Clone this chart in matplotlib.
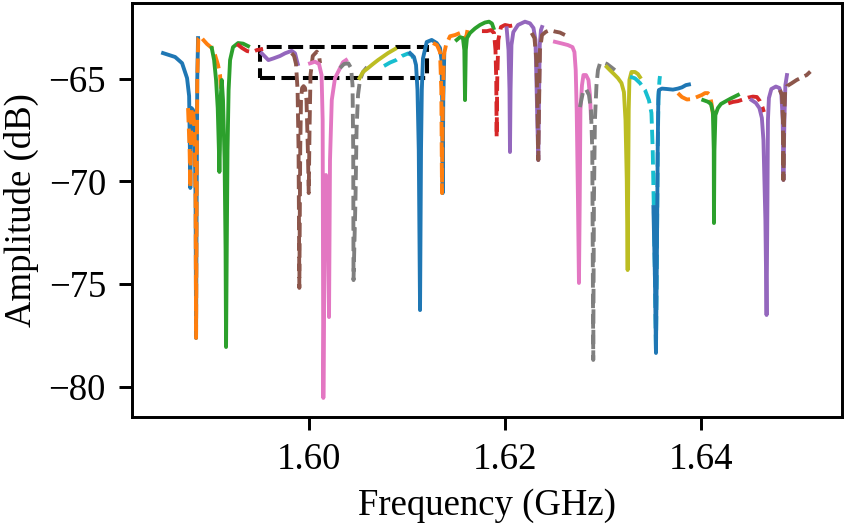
import matplotlib
matplotlib.use("Agg")
import matplotlib.pyplot as plt
import matplotlib.patches as patches

plt.rcParams['font.family'] = ['Liberation Serif', 'DejaVu Serif']
plt.rcParams['font.size'] = 10
plt.rcParams['mathtext.fontset'] = 'stix'

# resonance sweeps (GHz, dB)
f00 = [1.58510, 1.58633, 1.58704, 1.58755, 1.58776, 1.58784, 1.58788, 1.58793, 1.58801, 1.58816,
       1.58832, 1.58842, 1.58847, 1.58853, 1.58859, 1.58867]
a00 = [-63.75, -63.94, -64.24, -64.97, -65.84, -68.47, -70.32, -68.47, -66.43, -66.52,
       -67.50, -70.91, -77.63, -70.91, -65.06, -63.02]

f01 = [1.58765, 1.58781, 1.58788, 1.58793, 1.58801, 1.58816, 1.58832, 1.58842, 1.58847, 1.58853,
       1.58859, 1.58870, 1.58888, 1.58921, 1.58959, 1.59007, 1.59041, 1.59071, 1.59092, 1.59107]
a01 = [-66.43, -68.47, -70.32, -68.47, -66.43, -66.52, -67.50, -70.91, -77.63, -70.91,
       -65.06, -63.02, -62.92, -63.11, -63.31, -63.50, -63.85, -64.33, -64.82, -66.04]

f02 = [1.59007, 1.59031, 1.59051, 1.59068, 1.59080, 1.59085, 1.59090, 1.59097, 1.59109, 1.59122,
       1.59138, 1.59148, 1.59153, 1.59160, 1.59168, 1.59179, 1.59194, 1.59224, 1.59276, 1.59327, 1.59378]
a02 = [-63.50, -64.09, -65.06, -66.43, -68.47, -69.54, -68.47, -66.04, -65.06, -66.04,
       -68.96, -73.34, -78.07, -73.34, -68.47, -65.55, -64.09, -63.46, -63.26, -63.29, -63.41]

f03 = [1.59265, 1.59316, 1.59367, 1.59418, 1.59469, 1.59531]
a03 = [-63.31, -63.50, -63.65, -63.70, -63.60, -63.55]

f04 = [1.59517, 1.59585, 1.59636, 1.59704, 1.59755, 1.59823, 1.59857, 1.59874, 1.59885]
a04 = [-63.76, -64.09, -64.01, -63.89, -63.76, -63.64, -63.76, -64.09, -64.28]

f05 = [1.59823, 1.59847, 1.59867, 1.59883, 1.59893, 1.59901, 1.59910, 1.59918, 1.59929, 1.59944,
       1.59959, 1.59974, 1.59988, 1.59997, 1.60005, 1.60015, 1.60038, 1.60079, 1.60102, 1.60112]
a05 = [-63.75, -63.89, -64.28, -65.55, -68.47, -75.19, -68.47, -66.04, -65.45, -65.36,
       -65.45, -66.04, -68.47, -70.57, -67.50, -64.82, -63.89, -63.68, -63.85, -64.24]

f06 = [1.60010, 1.60061, 1.60102, 1.60128, 1.60139, 1.60146, 1.60158, 1.60173, 1.60189, 1.60204,
       1.60214, 1.60232, 1.60265, 1.60306, 1.60347, 1.60378]
a06 = [-64.25, -64.17, -64.28, -64.82, -67.01, -80.55, -73.34, -69.69, -70.91, -76.61,
       -68.96, -66.04, -64.97, -64.58, -64.19, -64.09]

f07 = [1.60316, 1.60357, 1.60401, 1.60429, 1.60444, 1.60451, 1.60454, 1.60474, 1.60485, 1.60500,
       1.60520, 1.60551, 1.60592]
a07 = [-64.48, -64.28, -64.25, -64.48, -65.31, -68.47, -74.81, -70.91, -67.50, -65.79,
       -65.06, -64.67, -64.43]

f08 = [1.60515, 1.60551, 1.60602, 1.60653, 1.60704, 1.60755, 1.60806, 1.60878]
a08 = [-64.97, -64.67, -64.48, -64.28, -64.09, -63.92, -63.75, -63.55]

f09 = [1.60765, 1.60827, 1.60888, 1.60949, 1.61010, 1.61051, 1.61077]
a09 = [-64.38, -64.21, -64.09, -63.89, -63.77, -63.85, -64.19]

f10 = [1.61031, 1.61071, 1.61092, 1.61107, 1.61120, 1.61133, 1.61143, 1.61151, 1.61163, 1.61201,
       1.61252, 1.61303, 1.61337, 1.61352, 1.61359, 1.61364, 1.61370, 1.61380]
a10 = [-63.75, -63.94, -64.33, -65.55, -68.47, -76.27, -68.47, -65.55, -64.01, -63.21,
       -63.11, -63.26, -63.50, -64.09, -66.04, -70.57, -66.04, -63.85]

f11 = [1.61265, 1.61306, 1.61337, 1.61350, 1.61357, 1.61365, 1.61376, 1.61398, 1.61439, 1.61490,
       1.61541, 1.61571, 1.61587, 1.61594, 1.61602, 1.61617]
a11 = [-63.26, -63.36, -63.70, -65.55, -70.57, -66.52, -63.85, -63.36, -62.93, -62.87,
       -62.77, -62.77, -63.02, -63.50, -63.02, -62.63]

f12 = [1.61507, 1.61541, 1.61571, 1.61585, 1.61592, 1.61600, 1.61612, 1.61643, 1.61694, 1.61745,
       1.61796, 1.61837, 1.61867, 1.61883]
a12 = [-63.11, -62.97, -63.02, -63.60, -66.04, -63.60, -63.02, -62.77, -62.55, -62.38,
       -62.26, -62.22, -62.31, -62.53]

f13 = [1.61765, 1.61816, 1.61857, 1.61888, 1.61903, 1.61911, 1.61915, 1.61921, 1.61932, 1.61959,
       1.62000, 1.62051, 1.62102]
a13 = [-62.68, -62.68, -62.63, -62.77, -63.60, -65.06, -67.84, -65.06, -63.11, -62.48,
       -62.38, -62.43, -62.38]

f14 = [1.62017, 1.62036, 1.62046, 1.62051, 1.62057, 1.62066, 1.62085, 1.62133, 1.62204, 1.62255,
       1.62291, 1.62311, 1.62321, 1.62330, 1.62340, 1.62347, 1.62355, 1.62367, 1.62378]
a14 = [-62.54, -63.60, -65.55, -68.57, -65.55, -63.36, -62.73, -62.38, -62.22, -62.30,
       -62.53, -63.11, -65.06, -67.01, -68.96, -66.04, -63.36, -62.63, -62.48]

f15 = [1.62272, 1.62301, 1.62321, 1.62332, 1.62340, 1.62347, 1.62357, 1.62378, 1.62418, 1.62459,
       1.62510, 1.62561, 1.62612]
a15 = [-62.77, -63.02, -64.09, -66.52, -68.96, -66.52, -63.60, -62.87, -62.71, -62.63,
       -62.70, -62.75, -62.87]

f16 = [1.62510, 1.62579, 1.62643, 1.62689, 1.62709, 1.62722, 1.62732, 1.62745, 1.62755, 1.62763,
       1.62770, 1.62786, 1.62801, 1.62827, 1.62852, 1.62867, 1.62878]
a16 = [-63.20, -63.28, -63.36, -63.46, -63.70, -64.58, -66.52, -70.91, -74.95, -70.91,
       -66.52, -65.31, -64.82, -64.82, -65.06, -65.79, -66.91]

f17 = [1.62765, 1.62796, 1.62827, 1.62857, 1.62878, 1.62891, 1.62901, 1.62908, 1.62918, 1.62934,
       1.62949, 1.62969, 1.63003, 1.63041, 1.63082, 1.63122]
a17 = [-66.38, -65.65, -65.50, -65.79, -66.52, -68.47, -78.70, -70.91, -67.01, -65.31,
       -64.58, -64.26, -64.21, -64.28, -64.43, -64.58]

f18 = [1.63038, 1.63071, 1.63112, 1.63153, 1.63189, 1.63214, 1.63230, 1.63243, 1.63252, 1.63258,
       1.63263, 1.63270, 1.63291, 1.63327, 1.63357, 1.63378]
a18 = [-64.42, -64.58, -64.77, -64.97, -65.21, -65.65, -67.01, -69.93, -74.32, -69.93,
       -66.52, -65.06, -64.67, -64.67, -64.77, -64.92]

f19 = [1.63276, 1.63327, 1.63378, 1.63429, 1.63469, 1.63495, 1.63508, 1.63518, 1.63531, 1.63541,
       1.63551, 1.63559, 1.63567, 1.63577, 1.63582]
a19 = [-64.90, -64.98, -65.21, -65.55, -66.04, -66.67, -68.47, -71.05, -74.81, -78.36,
       -73.34, -68.47, -65.79, -65.06, -64.87]

f20 = [1.63515, 1.63531, 1.63541, 1.63551, 1.63559, 1.63565, 1.63571, 1.63602, 1.63653, 1.63714,
       1.63765, 1.63806, 1.63847, 1.63878]
a20 = [-71.25, -74.81, -78.36, -73.34, -68.47, -66.04, -65.55, -65.48, -65.50, -65.53,
       -65.48, -65.42, -65.31, -65.28]

f21 = [1.63765, 1.63806, 1.63857, 1.63908, 1.63959, 1.64010, 1.64041, 1.64071, 1.64092, 1.64107, 1.64128]
a21 = [-65.70, -65.89, -66.01, -65.99, -65.89, -65.79, -65.70, -65.70, -65.79, -66.18, -66.91]

f22 = [1.64024, 1.64071, 1.64102, 1.64122, 1.64131, 1.64133, 1.64138, 1.64148, 1.64173, 1.64204,
       1.64245, 1.64306, 1.64378]
a22 = [-66.04, -66.12, -66.23, -66.62, -68.47, -72.03, -68.47, -66.77, -66.43, -66.23,
       -66.12, -65.96, -65.79]

f23 = [1.64279, 1.64327, 1.64378, 1.64429, 1.64480, 1.64531, 1.64571, 1.64602, 1.64628, 1.64643]
a23 = [-66.20, -66.13, -66.09, -66.01, -65.92, -65.87, -65.89, -66.09, -66.38, -66.62]

f24 = [1.64517, 1.64561, 1.64597, 1.64622, 1.64638, 1.64658, 1.64670, 1.64679, 1.64684, 1.64694,
       1.64719, 1.64765, 1.64801, 1.64821, 1.64835, 1.64842, 1.64852, 1.64862, 1.64878]
a24 = [-66.04, -66.18, -66.43, -66.91, -67.99, -71.88, -76.51, -70.91, -67.01, -65.94,
       -65.50, -65.38, -65.45, -65.75, -67.01, -69.93, -67.01, -65.31, -64.82]

f25 = [1.64806, 1.64827, 1.64837, 1.64842, 1.64849, 1.64859, 1.64878, 1.64926, 1.64977, 1.65028,
       1.65079, 1.65117]
a25 = [-65.55, -65.79, -67.01, -69.93, -67.01, -65.65, -65.36, -65.22, -65.06, -64.94,
       -64.82, -64.65]

traces = [(f00, a00), (f01, a01), (f02, a02), (f03, a03), (f04, a04), (f05, a05), (f06, a06),
          (f07, a07), (f08, a08), (f09, a09), (f10, a10), (f11, a11), (f12, a12), (f13, a13),
          (f14, a14), (f15, a15), (f16, a16), (f17, a17), (f18, a18), (f19, a19), (f20, a20),
          (f21, a21), (f22, a22), (f23, a23), (f24, a24), (f25, a25)]

# zoom window marked on the plot
box_f = [1.595, 1.612]
box_a = [-64.95, -63.45]

fig = plt.figure(figsize=(847 / 265, 527 / 265), dpi=265)
ax = fig.add_axes([0.1555, 0.2087, 0.8386, 0.7856])

for i, (f, a) in enumerate(traces):
    ls = '-' if i % 2 == 0 else '--'
    ax.plot(f, a, ls, color=f"C{i % 10}", lw=1.05)

rect = patches.Rectangle((box_f[0], box_a[0]), box_f[1] - box_f[0], box_a[1] - box_a[0],
                         fill=False, ls='--', color='k', lw=1.1)
ax.add_patch(rect)

ax.set_xlim(1.5819, 1.6544)
ax.set_ylim(-81.48, -61.31)
ax.set_xticks([1.60, 1.62, 1.64])
ax.set_yticks([-80, -75, -70, -65])
ax.set_xlabel("Frequency (GHz)", labelpad=3)
ax.set_ylabel("Amplitude (dB)", labelpad=2.5)

fig.savefig("out.png", dpi=265)
